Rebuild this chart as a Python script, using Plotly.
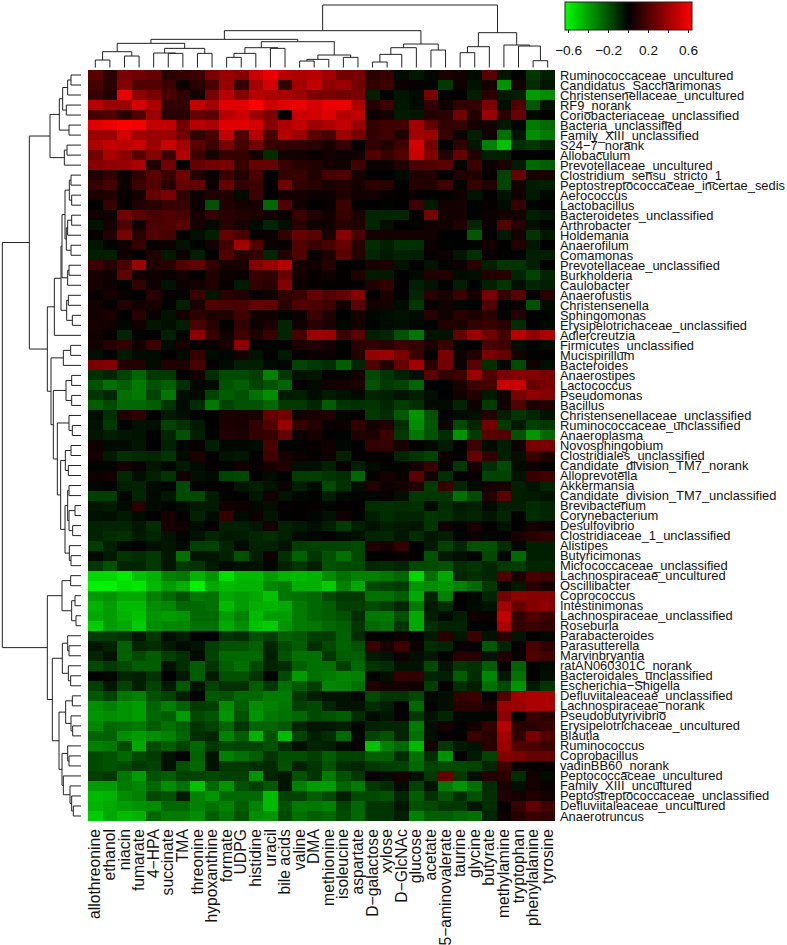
import plotly.graph_objects as go

# genus / metabolite labels, top to bottom and left to right as drawn
ROWS = ["Ruminococcaceae_uncultured", "Candidatus_Saccharimonas", "Christensenellaceae_uncultured", "RF9_norank",
        "Coriobacteriaceae_unclassified", "Bacteria_unclassified", "Family_XIII_unclassified", "S24\u22127_norank",
        "Allobaculum", "Prevotellaceae_uncultured", "Clostridium_sensu_stricto_1", "Peptostreptococcaceae_incertae_sedis",
        "Aerococcus", "Lactobacillus", "Bacteroidetes_unclassified", "Arthrobacter", "Holdemania", "Anaerofilum",
        "Comamonas", "Prevotellaceae_unclassified", "Burkholderia", "Caulobacter", "Anaerofustis", "Christensenella",
        "Sphingomonas", "Erysipelotrichaceae_unclassified", "Adlercreutzia", "Firmicutes_unclassified", "Mucispirillum",
        "Bacteroides", "Anaerostipes", "Lactococcus", "Pseudomonas", "Bacillus", "Christensenellaceae_unclassified",
        "Ruminococcaceae_unclassified", "Anaeroplasma", "Novosphingobium", "Clostridiales_unclassified",
        "Candidate_division_TM7_norank", "Alloprevotella", "Akkermansia", "Candidate_division_TM7_unclassified",
        "Brevibacterium", "Corynebacterium", "Desulfovibrio", "Clostridiaceae_1_unclassified", "Alistipes",
        "Butyricimonas", "Micrococcaceae_unclassified", "Lachnospiraceae_uncultured", "Oscillibacter", "Coprococcus",
        "Intestinimonas", "Lachnospiraceae_unclassified", "Roseburia", "Parabacteroides", "Parasutterella",
        "Marvinbryantia", "ratAN060301C_norank", "Bacteroidales_unclassified", "Escherichia\u2212Shigella",
        "Defluviitaleaceae_unclassified", "Lachnospiraceae_norank", "Pseudobutyrivibrio", "Erysipelotrichaceae_uncultured",
        "Blautia", "Ruminococcus", "Coprobacillus", "vadinBB60_norank", "Peptococcaceae_uncultured",
        "Family_XIII_uncultured", "Peptostreptococcaceae_unclassified", "Defluviitaleaceae_uncultured", "Anaerotruncus"]

COLS = ["allothreonine", "ethanol", "niacin", "fumarate", "4\u2212HPA", "succinate", "TMA", "threonine", "hypoxanthine",
        "formate", "UDPG", "histidine", "uracil", "bile acids", "valine", "DMA", "methionine", "isoleucine", "aspartate",
        "D\u2212galactose", "xylose", "D\u2212GlcNAc", "glucose", "acetate", "5\u2212aminovalerate", "taurine", "glycine",
        "butyrate", "methylamine", "tryptophan", "phenylalanine", "tyrosine"]

# correlation x 100, first 16 columns
VALUES_LEFT = [
    [22, 10, 30, 28, 25, 10, 13, 15, 30, 38, 33, 50, 58, 45, 42, 45],
    [17, 10, 32, 20, 20, 15, 3, 10, 18, 38, 13, 40, 52, 12, 40, 48],
    [14, 8, 58, 35, 30, 18, 12, 5, 30, 45, 33, 45, 42, 42, 38, 30],
    [45, 38, 38, 53, 42, 12, 12, 48, 40, 55, 55, 65, 50, 55, 58, 52],
    [18, 20, 10, 20, 38, 10, 10, 25, 22, 45, 50, 38, 30, 2, 50, 52],
    [55, 58, 65, 60, 48, 48, 28, 45, 42, 55, 55, 52, 33, 42, 48, 38],
    [38, 38, 52, 40, 38, 38, 28, 12, 18, 48, 20, 45, 18, 45, 38, 22],
    [42, 48, 46, 50, 38, 50, 40, 22, 15, 30, 17, 28, 14, 12, 12, 10],
    [28, 42, 35, 22, 33, 15, 45, 15, 5, 13, 13, 5, -12, 5, 5, 2],
    [33, 35, 37, 42, 7, 28, 1, 25, 28, 30, 14, 25, 25, 14, 10, 8],
    [8, 12, 3, 12, 22, 14, 28, 8, 2, 14, 8, 18, -1, 12, 14, 8],
    [13, 17, 3, 15, 20, 10, 25, 24, 3, 25, 12, 15, 0, 28, 12, 10],
    [7, 8, 2, 5, 25, 30, 12, 3, 8, 8, -3, 15, 0, 5, 5, 3],
    [0, 14, 2, 8, 10, 14, 14, 3, -22, 8, 5, 6, -28, 20, 4, 0],
    [4, 3, 28, 22, 18, 20, 18, 6, 12, 10, 8, 7, 5, 2, 14, 8],
    [-5, 5, 20, 4, 18, 20, 22, 5, -3, 10, 6, -3, -10, -4, 10, 3],
    [2, 8, 30, 10, 20, 18, 1, -4, -8, 25, 18, 2, 3, 12, 25, 22],
    [-6, -1, 4, 13, 2, 3, -5, -1, 5, 16, 40, 20, 3, 2, 20, 15],
    [-8, -8, 4, 0, 8, -7, 3, -8, 0, 20, 10, 12, -10, 8, 20, 2],
    [15, 9, 18, 38, 8, 10, 20, 24, 12, 5, 6, 33, 38, 45, 6, 4],
    [6, 4, 24, 4, 3, 2, 5, 0, 8, 3, 2, 14, 12, 26, 5, 2],
    [6, 3, 0, 12, 3, -5, 3, 4, 8, 2, -7, 12, 10, 32, 3, 2],
    [2, 5, 2, 0, 10, 1, -1, 14, -6, 10, 8, 2, 4, 12, 14, 25],
    [5, 1, 8, 4, 6, 0, -8, 6, 20, 18, 18, 25, 24, 10, 20, 18],
    [5, 7, 0, 10, 2, -5, 5, 11, 7, 8, 16, 4, 4, -1, 3, 15],
    [6, 4, -2, 4, -6, -4, -8, 18, 10, 0, 12, 3, 7, -10, 4, 10],
    [4, 1, -10, -1, 0, -8, -2, 35, 13, 3, 15, 7, 14, -10, 17, 38],
    [5, 9, 12, 4, 14, -3, 6, 1, 2, 6, 35, 1, -1, 0, 7, 8],
    [-4, -1, -7, -3, -3, 1, -3, 13, -3, -2, 5, -5, 1, -7, 1, 3],
    [30, 32, 8, 9, -3, 8, 7, 17, 1, -3, -8, -8, -3, -2, -18, -15],
    [-13, -10, -18, -28, -15, -15, 0, 5, -12, -20, -20, -17, -34, -15, -5, -6],
    [-22, -30, -25, -33, -22, -25, -13, -2, -3, -22, -25, -18, -22, -27, 1, -3],
    [-14, -10, -30, -33, -18, -32, -4, -3, -18, -25, -22, -30, -38, -7, -8, -3],
    [-25, -20, -28, -28, -25, -14, -3, -12, -32, -18, -22, -22, -28, -15, -15, -10],
    [-4, -13, 8, 12, 0, -7, -4, -1, 1, 7, 6, 6, 25, 28, 4, 6],
    [-5, -15, -1, -5, -4, -18, -13, -7, 0, 7, 6, 12, 20, 38, 13, 9],
    [-6, -8, -6, -5, -1, -10, -22, -8, -1, 8, 7, 12, 13, 25, 3, 6],
    [4, -3, -3, -6, 0, -9, -2, 2, -8, -2, -2, -3, 18, -1, -1, 2],
    [5, -7, -13, -11, -10, -14, -3, 7, 0, -5, -6, 1, 16, 6, 3, 1],
    [-1, -1, 5, 2, -6, -2, -7, -3, 1, -1, 4, 2, 6, 8, -4, -4],
    [4, 5, -11, -4, -8, -14, 5, -4, -3, -18, -20, 0, -3, 0, -16, -17],
    [-2, -1, -8, -9, -3, -1, -20, -1, 1, 1, -6, -8, -5, 3, -8, -3],
    [-17, -17, -1, -10, -3, -6, -20, -20, -7, -1, 0, -6, 5, -5, -2, -1],
    [-6, -7, -3, 10, -3, -1, -3, -7, -7, 5, 3, -2, -4, 2, 1, 2],
    [-5, -4, -7, -3, 1, 5, 1, -9, -3, 12, -3, 3, -6, -1, 1, -2],
    [-9, -10, -10, -6, -12, 6, 4, -3, 0, -8, -8, -6, 5, -9, -7, -4],
    [-9, -12, -13, -7, -10, -5, -1, -5, -10, -7, -7, -10, -12, -8, -3, -2],
    [-16, -8, -2, 0, -4, -6, -3, -17, -18, -10, -3, -9, -9, -5, -17, -18],
    [-3, -7, -14, -12, -15, -6, -30, -6, -6, -9, -22, -8, 3, -13, -26, -14],
    [-15, -22, -10, -10, -15, -6, -15, -14, -7, -3, -4, -5, -2, -9, -14, -8],
    [-58, -58, -63, -52, -48, -35, -32, -48, -40, -60, -50, -50, -42, -48, -50, -48],
    [-65, -65, -60, -62, -50, -42, -47, -65, -45, -50, -48, -48, -36, -33, -47, -47],
    [-42, -40, -45, -45, -35, -28, -22, -32, -30, -45, -42, -45, -52, -32, -30, -28],
    [-48, -42, -50, -50, -38, -36, -28, -28, -30, -50, -42, -47, -48, -45, -33, -28],
    [-45, -42, -48, -52, -40, -42, -40, -28, -28, -42, -35, -50, -42, -42, -33, -28],
    [-55, -42, -45, -55, -38, -36, -36, -30, -30, -45, -38, -52, -55, -40, -33, -32],
    [-17, -16, -14, -6, -15, -4, -8, -1, 0, -14, -12, -22, -17, -26, -24, -17],
    [-6, -9, -26, -10, -12, -7, -3, -5, -17, -22, -22, -26, -10, -20, -25, -13],
    [-10, -5, -26, -20, -25, -17, -13, -3, -18, -28, -28, -28, -8, -22, -30, -30],
    [-20, -15, -20, -25, -25, -5, -12, -25, -14, -25, -30, -20, -10, -12, -26, -30],
    [-1, -2, -10, -8, -14, 0, -7, -25, -7, -22, -22, -14, -1, -20, -42, -30],
    [-17, -6, -18, -8, -18, -7, -24, -5, -18, -13, -13, -25, -15, -30, -24, -17],
    [-24, -18, -32, -35, -22, -18, -8, -1, -24, -22, -28, -28, -33, -33, -15, -8],
    [-38, -35, -40, -42, -27, -34, -26, -16, -17, -38, -25, -38, -35, -32, -17, -20],
    [-40, -38, -40, -42, -28, -25, -42, -20, -23, -40, -22, -40, -32, -30, -28, -20],
    [-36, -28, -30, -33, -25, -30, -25, -14, -18, -27, -14, -27, -27, -24, -10, -6],
    [-27, -26, -38, -42, -38, -35, -27, -13, -10, -35, -25, -48, -22, -50, -18, -8],
    [-35, -32, -20, -45, -20, -25, -18, -28, -15, -20, -18, -18, -22, -12, -4, -10],
    [-20, -22, -28, -20, -16, -5, 0, -26, -5, -34, -30, -25, -14, -21, -21, -17],
    [-20, -22, -20, -15, -18, -5, -22, -28, -5, -15, -15, -13, -11, -22, -9, -14],
    [-17, -15, -32, -42, -22, -25, -18, -18, -20, -17, -17, -40, -10, -6, -22, -14],
    [-42, -42, -33, -36, -28, -38, -30, -52, -28, -40, -22, -17, -24, -5, -35, -42],
    [-50, -48, -38, -35, -20, -22, -7, -35, -40, -28, -28, -28, -50, -18, -18, -25],
    [-48, -45, -42, -40, -38, -28, -28, -35, -30, -35, -25, -35, -50, -22, -33, -32],
    [-55, -45, -50, -48, -28, -33, -33, -38, -25, -32, -22, -38, -40, -20, -30, -25],
]

# correlation x 100, last 16 columns
VALUES_RIGHT = [
    [40, 28, 30, 10, 13, -3, -7, -2, 7, 4, -3, 22, -6, 0, -15, -8],
    [35, 38, 28, 12, 15, 3, 2, -1, -15, 3, -5, 5, -40, 5, -12, -6],
    [30, 28, 30, -8, -1, -5, -3, 30, 0, 0, -8, 10, -7, -8, -42, -38],
    [58, 58, 42, 8, 15, -6, -3, 12, 4, 12, 13, 30, -4, 20, -24, -5],
    [55, 45, 48, 3, 5, -7, -6, 8, 10, 28, 8, 38, 10, 26, -3, 1],
    [42, 48, 38, 12, 16, 16, 40, 24, 12, 13, 5, 5, -7, -1, -33, -28],
    [17, 38, 28, 12, 16, 8, 40, 38, 13, 3, -8, 4, -30, -5, -38, -33],
    [6, 13, -1, 12, 8, 16, 52, 28, -1, 12, -6, -34, -52, -12, -15, -10],
    [5, 3, 4, 20, 14, 20, 50, 32, 8, 25, 8, -8, -8, 0, 0, 0],
    [5, 4, 16, 3, 3, 8, 18, 20, 23, -1, 15, 2, 7, -7, -28, -25],
    [17, 20, 5, 1, 0, -3, 8, 8, 0, 8, 8, 1, -18, 25, 6, 6],
    [6, 8, 5, 11, 10, 0, 9, 8, 16, -1, 13, 8, -18, 5, -7, -8],
    [3, 8, 4, 5, 2, 1, 2, -1, 1, 3, -5, -1, -5, 4, -7, -2],
    [2, 15, 1, 0, -1, 0, 15, -7, 5, 5, -1, 2, -3, 13, -1, 1],
    [4, 13, 7, -10, -10, -10, 1, 30, 5, 5, -1, 3, 5, 5, -8, -6],
    [4, 10, 8, -10, -4, 0, -1, 4, 4, 8, -10, 2, 20, 9, -4, -1],
    [6, 33, 18, 5, 5, 5, 5, 5, 0, 0, -24, 1, -7, 5, -14, -7],
    [18, 25, 10, -12, -8, -13, -13, 3, -1, 0, -1, 5, 0, 8, -6, 0],
    [7, 22, 9, -10, -7, -9, -8, 2, 3, -6, -13, 2, -1, 0, -8, -8],
    [9, 1, 0, 6, 7, -5, 0, -5, -1, 3, 10, -8, -14, -14, -8, 0],
    [4, 1, 8, -7, -7, 0, -3, 8, 8, -3, -4, 8, 10, -10, -18, -10],
    [1, 1, 1, 8, 12, 1, -8, -5, 0, -8, -1, -8, -14, -4, -10, -8],
    [20, 25, 33, 0, 7, 0, -10, 10, 6, 14, 5, 30, 13, 22, 0, 10],
    [16, 5, 22, 4, 5, -3, -15, 2, 4, -2, -1, 20, 0, 3, -22, -3],
    [8, 0, 6, -2, -3, -5, -3, 10, 4, 10, 7, 10, -1, 9, 0, -1],
    [7, -2, 5, -1, -3, -4, -2, -1, 8, 7, 12, 14, 10, -12, 0, -3],
    [38, 15, 22, -8, -10, -22, -32, -5, -5, 25, 38, 28, 17, 45, 35, 42],
    [5, 0, 10, 12, 10, 15, 13, 7, 14, -1, 0, 18, 15, -4, -1, -3],
    [3, 1, 8, 36, 38, 30, 14, 1, 30, 3, 8, 30, 25, 5, -1, 0],
    [-12, -25, -10, 20, 8, 25, 40, 10, 28, 3, 22, -12, -2, -20, 4, -4],
    [1, -2, 5, -20, -14, -9, -4, 22, 12, 15, 38, 20, 30, 32, 32, 30],
    [4, 6, 7, -22, -15, -18, -27, 0, -1, 7, 15, 17, 50, 50, 25, 30],
    [-7, -5, -3, -10, -8, -5, -8, -4, 0, 5, 8, -7, 4, 30, 35, 32],
    [-25, -14, -13, -14, -10, -16, -13, -3, -3, -10, 4, -16, 5, 20, 7, 8],
    [8, -2, 1, -15, -12, -24, -40, -22, 0, -3, -4, 8, -8, -14, -10, -5],
    [2, 3, 12, 5, 8, -12, -38, -23, 3, -20, -10, 28, -15, -7, -17, -15],
    [1, -1, 8, 7, 15, -15, -32, -22, -12, -40, -16, 22, 20, -22, -40, -28],
    [4, -2, 0, 12, 12, 6, 0, -3, -7, 0, 15, -3, -8, 3, 30, 30],
    [3, -9, 0, 2, 1, -10, -14, -18, 3, -1, 25, 12, -8, -4, 14, 7],
    [-9, 2, -8, -3, -1, -1, 5, 14, -1, -15, 5, -12, -20, -3, 3, 0],
    [-14, -12, -28, 2, 5, 2, 22, 5, -12, 1, 2, -18, -18, -5, 13, 16],
    [-20, -13, -3, 8, 3, 5, 8, -16, 14, -10, -3, 5, 6, -8, -5, -10],
    [-8, -2, -1, -2, 2, -4, -15, -14, -14, -30, -20, 8, 22, -8, -7, -5],
    [-1, 1, 1, -12, -13, -12, -13, -3, -12, -7, -8, -3, -8, -8, -12, -10],
    [-5, 4, -1, -8, -12, -10, -10, -14, -13, -8, -10, -6, -10, -1, -12, -10],
    [-8, -16, -8, -5, -8, -7, -6, -14, 4, -1, 7, 1, -5, 1, 5, 3],
    [1, -3, -5, -10, -10, -6, -12, -6, -8, -1, 3, -2, 1, 6, 10, 12],
    [-18, -18, -20, 8, 6, 12, 0, -7, -18, -10, -22, -22, -12, -2, -8, -8],
    [-22, -30, -20, 0, 1, 2, -1, -22, -7, -4, -1, -20, -2, -28, -8, -8],
    [-22, -20, -20, -10, -12, -10, -20, -20, -22, -12, -14, -10, -15, -16, -10, -10],
    [-38, -30, -35, -35, -32, -28, -58, -30, -45, -10, -13, -10, 20, 6, 18, 15],
    [-55, -35, -45, -20, -18, -16, -40, -38, -40, -35, -28, -15, -2, -7, 10, 5],
    [-20, -15, -15, -30, -30, -25, -45, -10, -35, 0, -2, -10, 28, 35, 33, 33],
    [-25, -17, -17, -20, -17, -10, -33, -7, -12, 0, -3, -5, 40, 25, 32, 35],
    [-25, -22, -12, -32, -33, -22, -45, -8, -3, -8, 4, 3, 48, 12, 20, 15],
    [-28, -25, -14, -28, -30, -14, -45, -13, -9, -9, -1, -1, 42, 12, 14, 12],
    [-16, -26, -12, 2, -1, 3, 0, -7, 10, -6, 15, -5, 10, -6, 1, -2],
    [-20, -26, -22, 14, 6, 15, 3, -12, -10, 1, 1, -24, -10, 1, 18, 12],
    [-15, -25, -25, -7, -5, 3, -4, -7, -1, 10, 9, -5, 8, 2, 20, 16],
    [-30, -17, -28, -14, -12, -5, -5, -20, -5, -15, -13, -25, 1, -26, -1, -3],
    [-33, -36, -34, -1, -4, 12, 12, -10, -8, -25, -12, -36, -7, -30, 1, -4],
    [-36, -35, -30, 8, 5, 5, 4, -16, 1, -12, -8, -30, -20, -40, -7, -14],
    [-5, -5, -2, -20, -14, -14, -20, -2, -4, 12, 15, 1, 20, 40, 42, 42],
    [-10, -5, -5, -12, -8, 1, -28, -1, -4, 10, 10, 6, 38, 38, 42, 42],
    [-22, -25, -12, -3, -6, 1, -15, -5, -10, -2, -2, -2, 35, 1, 14, 10],
    [-6, -8, -2, -9, -10, -10, -33, -4, 5, 0, 5, 12, 45, 10, 10, 13],
    [-12, -28, -2, -18, -22, -10, -30, -4, 0, -1, 14, 10, 40, 12, 30, 20],
    [-8, -3, 2, -52, -35, -28, -50, 5, -15, -7, -5, 10, 38, 20, 18, 15],
    [-25, -18, -18, -25, -25, -12, -30, -12, -40, 0, -7, -18, 32, 30, 25, 25],
    [-22, -12, -10, -15, -17, -18, -28, -18, -20, -20, -18, -10, 15, 3, 1, 2],
    [-33, -22, -15, 2, -3, 5, -4, -15, 25, -15, -4, 8, 10, -12, 5, -3],
    [-42, -27, -33, -15, -12, -3, -18, -5, -32, -40, -30, -12, 6, -4, 5, 3],
    [-20, -8, -20, -20, -22, -10, -25, -13, -22, -12, -22, -13, 8, 5, 8, 5],
    [-35, -18, -28, -14, -14, -6, -22, -20, -15, -15, -6, -12, 1, 13, 24, 16],
    [-28, -20, -28, -14, -14, -8, -35, -25, -25, -28, -30, -10, 3, 10, 14, 12],
]

# cluster trees as (height, left, right); L is a leaf, taken in drawing order
L = None
COL_TREE = (188,
            (111,
             (85,
              (73,
               (48, (23, L, L), (35, L, L)),
               (58, (44, L, (43, L, L)), (43, L, L))),
              (78,
               (60, (43, (31, L, L), L), (58, L, L)),
               (38, (25, (20, L, L), L), (31, L, L)))),
             (71,
              (60, (40, (17, L, L), L), L),
              (53, L, L))),
            (105,
             (63, (45, L, L), L),
             (68, L, (65, L, (21, L, L)))))

ROW_TREE = (236,
            (155,
             (93,
              (65, (55, (40, (30, L, L), L), (44, L, L)), (36, L, L)),
              (50, (42, L, L), L)),
             (101,
              (80,
               (60,
                (57,
                 (48, (35, (30, L, L), (28, L, L)), (44, (40, (28, L, L), L), (30, L, L))),
                 (40, (36, L, L), L)),
                (43, (38, L, L), (26, L, L))),
               L),
              (90,
               (53, (31, L, L), L),
               (83,
                (45, (28, L, L), (28, L, L)),
                (71,
                 (36, L, (26, L, L)),
                 (61,
                  (47, (30, L, L), (38, L, L)),
                  (48, (40, (36, L, L), (36, (18, L, L), (25, L, L))), (35, L, (30, L, L))))))))),
            (101,
             (57, (31, L, L), (28, (18, L, L), (15, L, L))),
             (86,
              (56, (40, L, (36, L, L)), (38, L, (31, L, L))),
              (66,
               (46, (26, L, L), (30, L, (25, L, L))),
               (57, (40, L, (36, L, L)), (53, L, (33, L, (28, L, (23, L, L)))))))))

CBAR_TICKS = [-0.6, -0.4, -0.2, 0, 0.2, 0.4, 0.6]
CBAR_LABEL_VALUES = [-0.6, -0.2, 0.2, 0.6]
CBAR_LABELS = ["\u22120.6", "\u22120.2", "0.2", "0.6"]
CBAR_MAX = 0.63
GREEN_FACTOR = 0.92

W, H = 787, 945
FONT = "Liberation Sans"


def tree_lines(tree):
    """Walk a cluster tree, return pos and height lists for its bracket lines."""
    pos, hgt = [], []
    next_leaf = [0]

    def walk(node):
        if node is None:
            next_leaf[0] += 1
            return next_leaf[0] - 1, 0
        h, left, right = node
        p1, h1 = walk(left)
        p2, h2 = walk(right)
        pos.extend([p1, p1, p2, p2, None])
        hgt.extend([h1, h, h, h2, None])
        return (p1 + p2) / 2, h

    walk(tree)
    assert next_leaf[0] in (len(ROWS), len(COLS))
    return pos, hgt


z = [[(v * GREEN_FACTOR if v < 0 else v) / 100 for v in a + b] for a, b in zip(VALUES_LEFT, VALUES_RIGHT)]
assert len(z) == len(ROWS) and all(len(r) == len(COLS) for r in z)

fig = go.Figure()

fig.add_trace(go.Heatmap(
    z=z, x=list(range(len(COLS))), y=list(range(len(ROWS))),
    zmin=-CBAR_MAX, zmax=CBAR_MAX,
    colorscale=[[0, "#00FF00"], [0.5, "#000000"], [1, "#FF0000"]],
    hoverinfo="skip",
    colorbar=dict(orientation="h", x=565 / W, xanchor="left", y=1 - 2 / H, yanchor="top",
                  len=127 / W, lenmode="fraction", thickness=28, thicknessmode="pixels",
                  xpad=0, ypad=0, outlinecolor="#222222", outlinewidth=1,
                  tickmode="array", tickvals=CBAR_TICKS, ticktext=[""] * len(CBAR_TICKS),
                  ticks="outside", ticklen=3, tickcolor="#222222"),
))

col_pos, col_h = tree_lines(COL_TREE)
fig.add_trace(go.Scatter(x=col_pos, y=col_h, mode="lines", xaxis="x2", yaxis="y2",
                         line=dict(color="#222222", width=1), hoverinfo="skip", showlegend=False))
row_pos, row_h = tree_lines(ROW_TREE)
fig.add_trace(go.Scatter(x=row_h, y=row_pos, mode="lines", xaxis="x3", yaxis="y3",
                         line=dict(color="#222222", width=1), hoverinfo="skip", showlegend=False))

x_dom = [88 / W, 555 / W]
y_dom = [1 - 821 / H, 1 - 70 / H]
hidden = dict(visible=False, showgrid=False, zeroline=False)

# colour key labels sit further from the bar than the colorbar can place them
for value, label in zip(CBAR_LABEL_VALUES, CBAR_LABELS):
    fig.add_annotation(x=(565 + (value + CBAR_MAX) / (2 * CBAR_MAX) * 127) / W, y=1 - 50 / H,
                       xref="paper", yref="paper", xanchor="center", yanchor="middle",
                       text=label, showarrow=False,
                       font=dict(family=FONT, size=13.7, color="#111111"))

fig.update_layout(
    width=W, height=H,
    margin=dict(l=0, r=0, t=0, b=0, autoexpand=False),
    paper_bgcolor="white", plot_bgcolor="white",
    showlegend=False,
    xaxis=dict(domain=x_dom, range=[-0.5, 31.5], tickmode="array", tickvals=list(range(len(COLS))), ticktext=COLS,
               tickangle=-90, ticks="", showgrid=False, zeroline=False, ticklabelstandoff=4,
               tickfont=dict(family=FONT, size=15.7, color="#111111")),
    yaxis=dict(domain=y_dom, range=[74.5, -0.5], side="right", tickmode="array",
               tickvals=list(range(len(ROWS))), ticktext=ROWS, ticks="", showgrid=False, zeroline=False,
               ticklabelstandoff=4,
               tickfont=dict(family=FONT, size=12.9, color="#111111")),
    xaxis2=dict(domain=x_dom, range=[-0.5, 31.5], anchor="y2", **hidden),
    yaxis2=dict(domain=[1 - 67.7 / H, 1], range=[0, 203], anchor="x2", **hidden),
    xaxis3=dict(domain=[0, 81 / W], range=[243, 0], anchor="y3", **hidden),
    yaxis3=dict(domain=y_dom, range=[74.5, -0.5], anchor="x3", **hidden),
)

# the page's default body margin would push the figure off the window
fig.write_html("out.html", config={"displayModeBar": False},
               post_script="document.body.style.margin = '0';")
